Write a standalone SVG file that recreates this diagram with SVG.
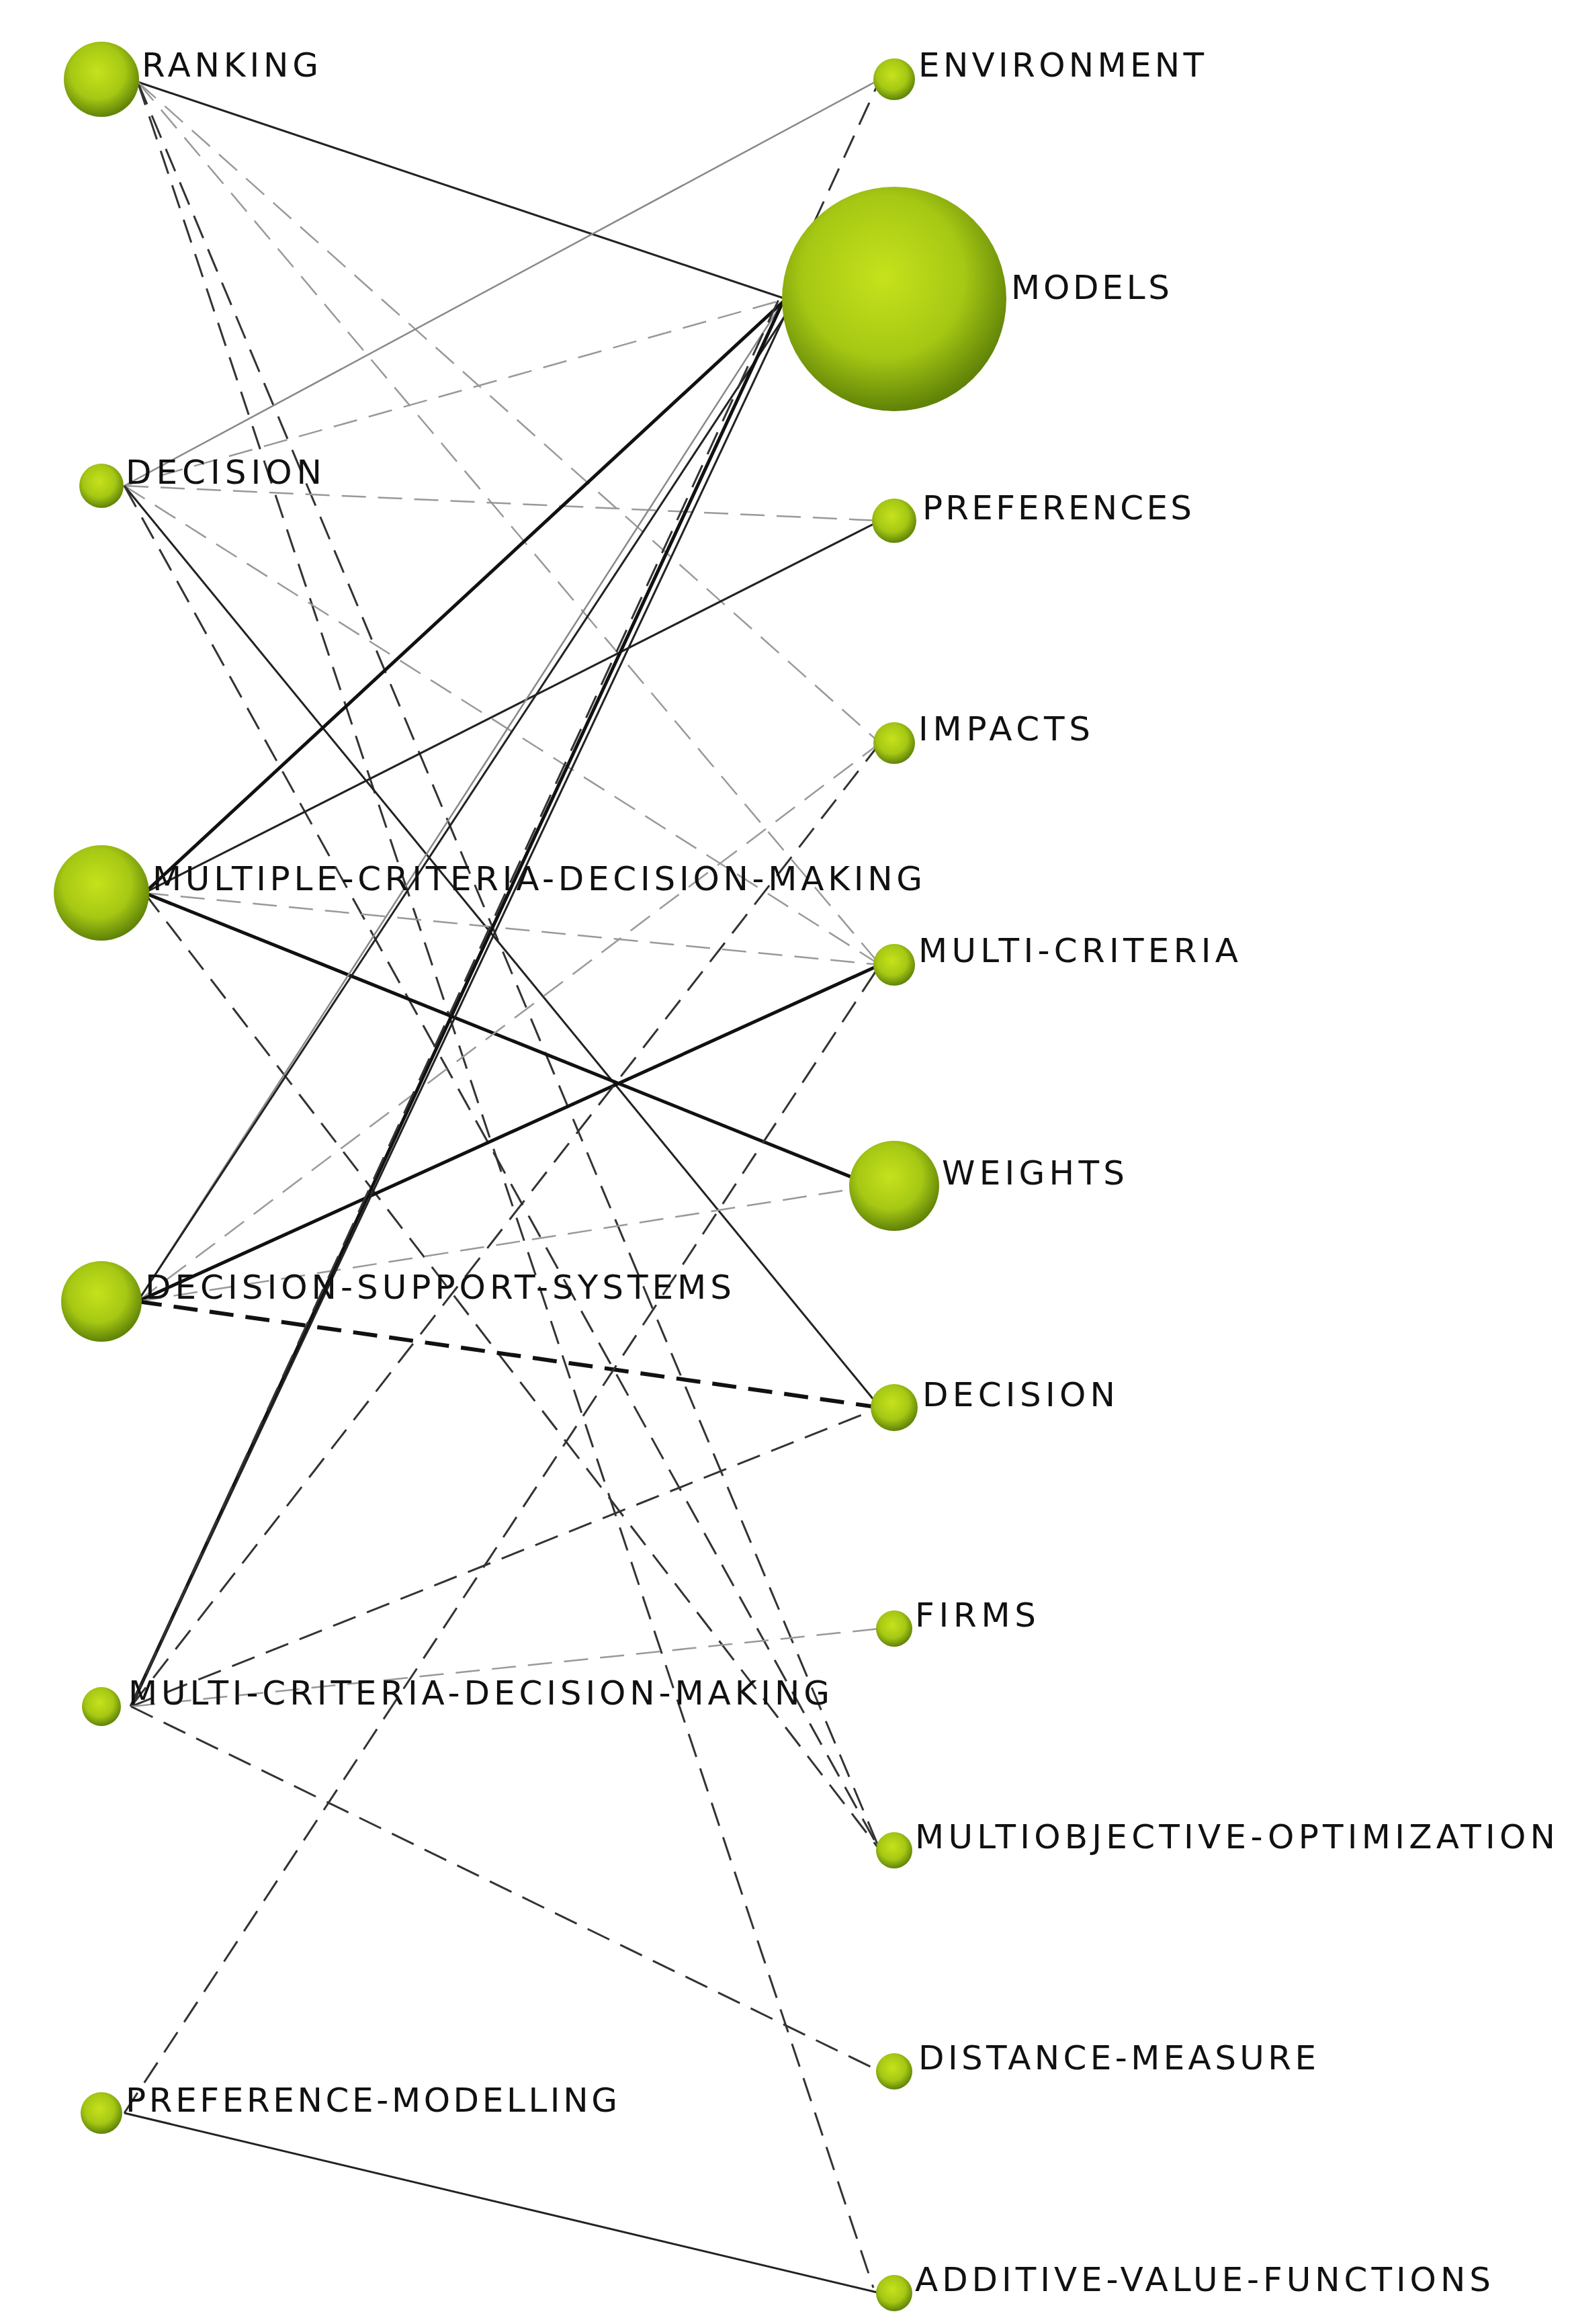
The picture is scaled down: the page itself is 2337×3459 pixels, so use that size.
<svg xmlns="http://www.w3.org/2000/svg" width="2337" height="3459" viewBox="0 0 2337 3459">
<defs>
<radialGradient id="g" cx="45%" cy="40%" r="60%">
<stop offset="0" stop-color="#c6e21c"/>
<stop offset="0.6" stop-color="#a6c814"/>
<stop offset="1" stop-color="#5f8208"/>
</radialGradient>
<style>
text{font-family:"DejaVu Sans",Verdana,sans-serif;font-size:50px;fill:#111}
circle{fill:url(#g)}
.s{stroke:#222;stroke-width:3;fill:none}
.st{stroke:#111;stroke-width:5;fill:none}
.sl{stroke:#888;stroke-width:2.5;fill:none}
.d{stroke:#333;stroke-width:3;stroke-dasharray:36 18;fill:none}
.dt{stroke:#111;stroke-width:6;stroke-dasharray:36 18;fill:none}
.dl{stroke:#999;stroke-width:2.5;stroke-dasharray:36 18;fill:none}
</style>
</defs>
<rect width="2337" height="3459" fill="#fff"/>
<g id="connectors">
<line class="s" x1="205" y1="122" x2="1170" y2="445"/>
<line class="dl" x1="205" y1="122" x2="1310" y2="1436"/>
<line class="d" x1="205" y1="122" x2="1310" y2="2754"/>
<line class="d" x1="205" y1="122" x2="1300" y2="3405"/>
<line class="dl" x1="205" y1="122" x2="1310" y2="1106"/>
<line class="sl" x1="185" y1="723" x2="1310" y2="118"/>
<line class="dl" x1="185" y1="723" x2="1170" y2="445"/>
<line class="dl" x1="185" y1="723" x2="1310" y2="775"/>
<line class="dl" x1="185" y1="723" x2="1310" y2="1436"/>
<line class="s" x1="185" y1="723" x2="1310" y2="2095"/>
<line class="d" x1="185" y1="723" x2="1310" y2="2754"/>
<line class="st" x1="215" y1="1329" x2="1170" y2="445"/>
<line class="s" x1="215" y1="1329" x2="1310" y2="775"/>
<line class="dl" x1="215" y1="1329" x2="1310" y2="1436"/>
<line class="st" x1="215" y1="1329" x2="1300" y2="1765"/>
<line class="d" x1="215" y1="1329" x2="1310" y2="2754"/>
<line class="sl" x1="205" y1="1937" x2="1165" y2="450"/>
<line class="s" x1="205" y1="1937" x2="1175" y2="460"/>
<line class="dl" x1="205" y1="1937" x2="1310" y2="1106"/>
<line class="st" x1="205" y1="1937" x2="1310" y2="1436"/>
<line class="dl" x1="205" y1="1937" x2="1300" y2="1765"/>
<line class="dt" x1="205" y1="1937" x2="1310" y2="2095"/>
<line class="st" x1="195" y1="2540" x2="1165" y2="450"/>
<line class="s" x1="195" y1="2540" x2="1175" y2="455"/>
<line class="d" x1="195" y1="2540" x2="1310" y2="118"/>
<line class="d" x1="195" y1="2540" x2="1310" y2="1106"/>
<line class="d" x1="195" y1="2540" x2="1310" y2="2095"/>
<line class="dl" x1="195" y1="2540" x2="1310" y2="2424"/>
<line class="d" x1="195" y1="2540" x2="1310" y2="3083"/>
<line class="d" x1="185" y1="3145" x2="1310" y2="1436"/>
<line class="s" x1="185" y1="3145" x2="1310" y2="3413"/>
</g>
<g id="n-ranking"><circle cx="151" cy="118" r="56"/><text x="211" y="114" textLength="263">RANKING</text></g>
<g id="n-decision-l"><circle cx="151" cy="723" r="33"/><text x="187" y="720" textLength="292">DECISION</text></g>
<g id="n-mcdm"><circle cx="151" cy="1329" r="71"/><text x="227" y="1325" textLength="1146">MULTIPLE-CRITERIA-DECISION-MAKING</text></g>
<g id="n-dss"><circle cx="151" cy="1937" r="60"/><text x="216" y="1933" textLength="873">DECISION-SUPPORT-SYSTEMS</text></g>
<g id="n-mcdm2"><circle cx="151" cy="2540" r="29"/><text x="191" y="2537" textLength="1044">MULTI-CRITERIA-DECISION-MAKING</text></g>
<g id="n-pm"><circle cx="151" cy="3145" r="31"/><text x="187" y="3143" textLength="732">PREFERENCE-MODELLING</text></g>
<g id="n-env"><circle cx="1331" cy="118" r="31"/><text x="1367" y="114" textLength="425">ENVIRONMENT</text></g>
<g id="n-models"><circle cx="1331" cy="445" r="167"/><text x="1505" y="445" textLength="236">MODELS</text></g>
<g id="n-pref"><circle cx="1331" cy="775" r="33"/><text x="1373" y="773" textLength="401">PREFERENCES</text></g>
<g id="n-impacts"><circle cx="1331" cy="1106" r="31"/><text x="1367" y="1102" textLength="256">IMPACTS</text></g>
<g id="n-mc"><circle cx="1331" cy="1436" r="31"/><text x="1367" y="1432" textLength="476">MULTI-CRITERIA</text></g>
<g id="n-weights"><circle cx="1331" cy="1765" r="67"/><text x="1402" y="1763" textLength="272">WEIGHTS</text></g>
<g id="n-decision-r"><circle cx="1331" cy="2095" r="35"/><text x="1373" y="2093" textLength="287">DECISION</text></g>
<g id="n-firms"><circle cx="1331" cy="2424" r="27"/><text x="1362" y="2421" textLength="180">FIRMS</text></g>
<g id="n-moo"><circle cx="1331" cy="2754" r="27"/><text x="1362" y="2751" textLength="953">MULTIOBJECTIVE-OPTIMIZATION</text></g>
<g id="n-dm"><circle cx="1331" cy="3083" r="27"/><text x="1367" y="3080" textLength="592">DISTANCE-MEASURE</text></g>
<g id="n-avf"><circle cx="1331" cy="3413" r="27"/><text x="1362" y="3410" textLength="857">ADDITIVE-VALUE-FUNCTIONS</text></g>
</svg>
